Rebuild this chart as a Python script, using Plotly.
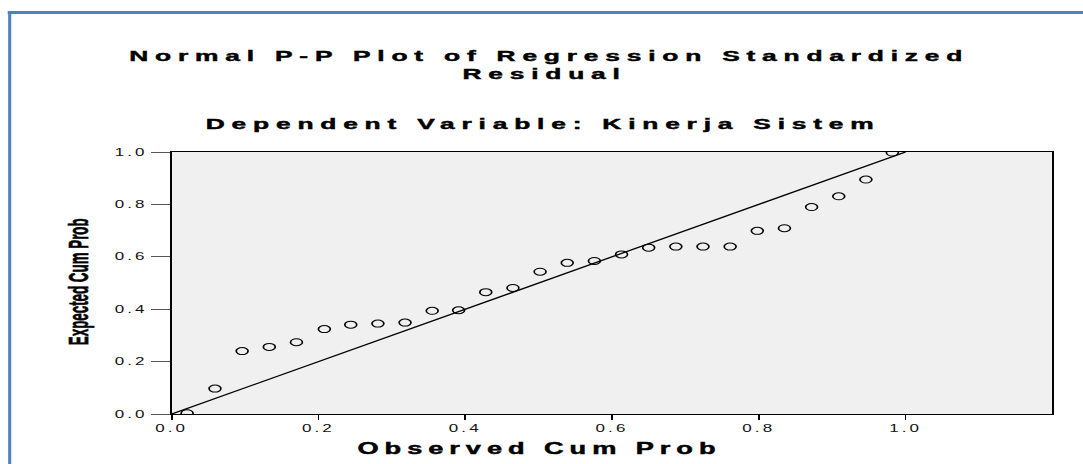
import plotly.graph_objects as go

# ---------------- data ----------------
observed_cum_prob = [0.021, 0.059, 0.096, 0.133, 0.170, 0.208, 0.244, 0.281, 0.318,
                     0.355, 0.391, 0.428, 0.465, 0.502, 0.539, 0.576, 0.613, 0.650,
                     0.687, 0.724, 0.761, 0.798, 0.835, 0.872, 0.909, 0.946, 0.982]
expected_cum_prob = [0.003, 0.097, 0.240, 0.256, 0.274, 0.324, 0.341, 0.345, 0.349,
                     0.394, 0.396, 0.465, 0.481, 0.543, 0.577, 0.584, 0.609, 0.635,
                     0.639, 0.639, 0.639, 0.699, 0.709, 0.790, 0.831, 0.895, 0.998]
ref_line_x = [0.0, 1.0]
ref_line_y = [0.0, 1.0]

x_tick_vals = [0.0, 0.2, 0.4, 0.6, 0.8, 1.0]
x_tick_text = ["0.0", "0.2", "0.4", "0.6", "0.8", "1.0"]
y_tick_vals = [0.0, 0.2, 0.4, 0.6, 0.8, 1.0]
y_tick_text = ["0.0", "0.2", "0.4", "0.6", "0.8", "1.0"]

title_line1 = "Normal P-P Plot of Regression Standardized"
title_line2 = "Residual"
subtitle = "Dependent Variable: Kinerja Sistem"
x_title = "Observed Cum Prob"
y_title = "Expected Cum Prob"

# ---------------- geometry ----------------
SX = 1.7            # horizontal stretch of the whole picture
W, H = 637, 464     # unstretched figure size (637*1.7 ~ 1083)
ML, MR, MT, MB = 101.2, 17.7, 152, 50
PW, PH = W - ML - MR, H - MT - MB


def px(xs):
    """screen x (stretched pixels) -> paper x"""
    return (xs / SX - ML) / PW


def py(ys):
    """screen y pixels -> paper y"""
    return (H - MB - ys) / PH


FONT = "Liberation Sans, Arial, sans-serif"
FRAME = "#4f81bd"

fig = go.Figure()
fig.add_trace(go.Scatter(
    x=ref_line_x, y=ref_line_y, mode="lines",
    line=dict(color="black", width=1.2), hoverinfo="skip", showlegend=False))
fig.add_trace(go.Scatter(
    x=observed_cum_prob, y=expected_cum_prob, mode="markers",
    marker=dict(symbol="circle-open", size=7, color="black",
                line=dict(width=1, color="black")),
    showlegend=False))

TF = dict(family=FONT, size=15.5, color="black", weight="bold")
annotations = [
    dict(text="<b>%s</b>" % title_line1, x=px(550), y=py(55), font=TF),
    dict(text="<b>%s</b>" % title_line2, x=px(545), y=py(73), font=TF),
    dict(text="<b>%s</b>" % subtitle, x=px(543.5), y=py(123), font=TF),
    dict(text="<b>%s</b>" % x_title, x=px(540), y=py(448),
         font=dict(family=FONT, size=16, color="black", weight="bold")),
    dict(text="<b>%s</b>" % y_title, x=px(79), y=py(281.5), textangle=-90,
         font=dict(family=FONT, size=16, color="black", weight="bold")),
]
for a in annotations:
    a.update(xref="paper", yref="paper", xanchor="center", yanchor="middle",
             showarrow=False, borderpad=0)

shapes = [
    dict(type="line", xref="paper", yref="paper",
         x0=px(8), x1=px(1090), y0=py(12.5), y1=py(12.5),
         line=dict(color=FRAME, width=3)),
    dict(type="line", xref="paper", yref="paper",
         x0=px(10), x1=px(10), y0=py(11), y1=py(480),
         line=dict(color=FRAME, width=1.8)),
]

fig.update_layout(
    width=W, height=H,
    margin=dict(l=ML, r=MR, t=MT, b=MB, pad=0),
    paper_bgcolor="white", plot_bgcolor="#f0f0f0",
    showlegend=False,
    annotations=annotations, shapes=shapes,
    font=dict(family=FONT, size=10, color="#111"),
    xaxis=dict(range=[0, 1.2], showgrid=False, zeroline=False,
               showline=True, linecolor="black", linewidth=1, mirror=True,
               ticks="outside", ticklen=5, tickwidth=1.3, tickcolor="black",
               tickvals=x_tick_vals, ticktext=x_tick_text,
               tickfont=dict(family=FONT, size=10, color="#111")),
    yaxis=dict(range=[0, 1], showgrid=False, zeroline=False,
               showline=True, linecolor="black", linewidth=1.3, mirror=True,
               ticks="outside", ticklen=11, tickwidth=1, tickcolor="#555",
               tickvals=y_tick_vals, ticktext=y_tick_text,
               tickfont=dict(family=FONT, size=10, color="#111")),
)

post_js = """
var gd = document.getElementById('{plot_id}');
document.body.style.margin = '0';
document.body.style.overflow = 'hidden';
gd.style.transformOrigin = '0 0';
gd.style.transform = 'scaleX(%s)';
var st = document.createElement('style');
st.textContent = '.xtick text, .ytick text {letter-spacing:1.8px;}' +
  '.annotation[data-index="0"] text, .annotation[data-index="1"] text, .annotation[data-index="2"] text {letter-spacing:4px; stroke:#000; stroke-width:0.45px;}' +
  '.annotation[data-index="3"] text {letter-spacing:3.5px; stroke:#000; stroke-width:0.45px;}' +
  '.annotation[data-index="4"] text {transform:scaleX(0.835); transform-box:fill-box; transform-origin:center; stroke:#000; stroke-width:0.4px;}';
document.head.appendChild(st);
""" % SX

fig.write_html("out.html", post_script=post_js,
               config=dict(displayModeBar=False))
